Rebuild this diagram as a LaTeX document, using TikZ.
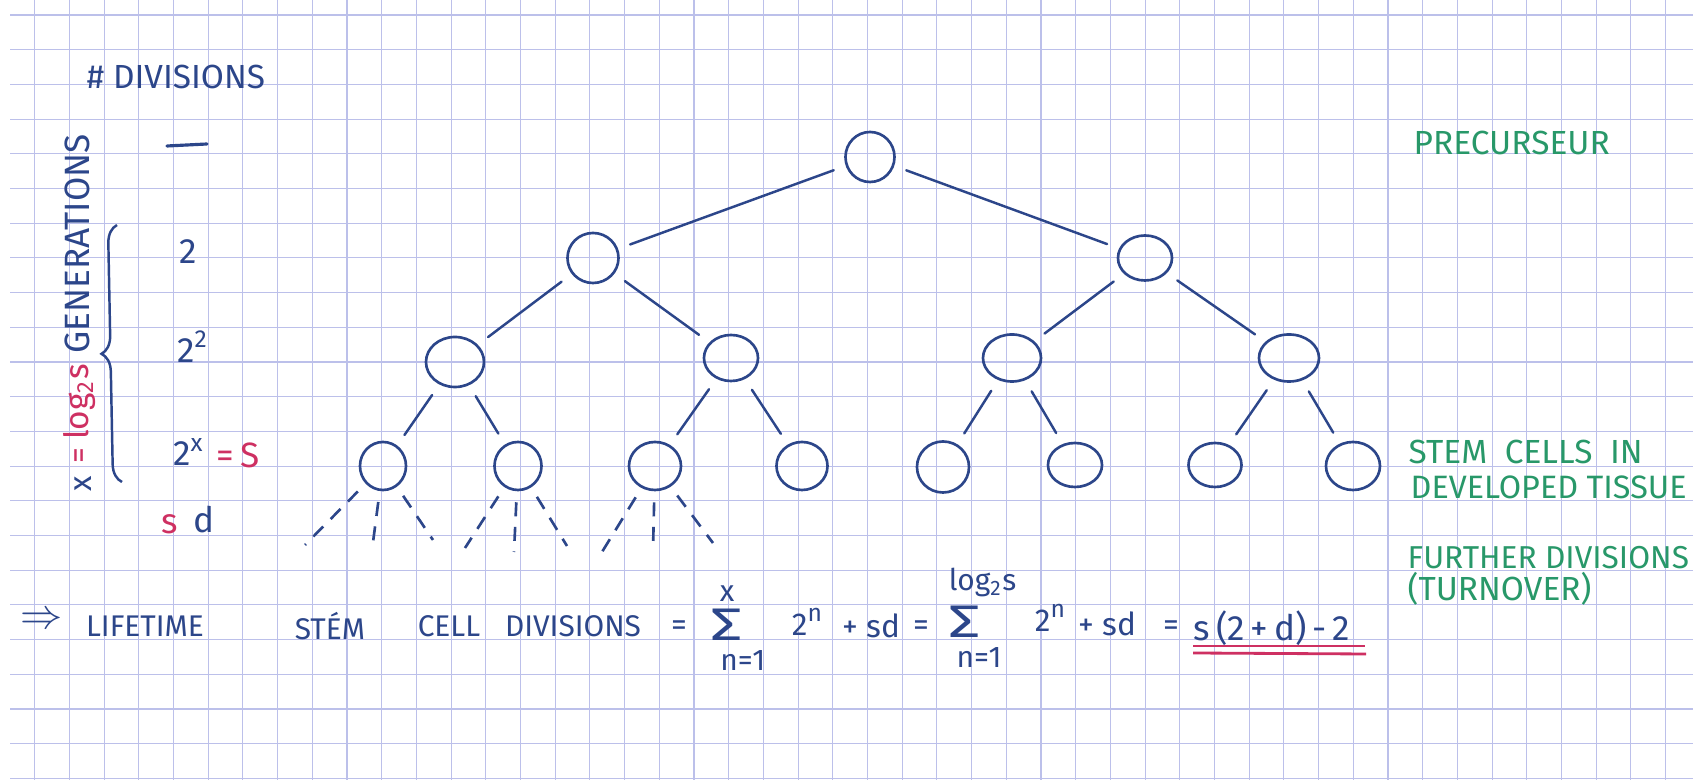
\documentclass[tikz,border=0pt]{standalone}
\usepackage{fontspec}
\setmainfont{Fira Sans}
\usetikzlibrary{shapes.geometric,decorations.pathreplacing}
\definecolor{ink}{RGB}{44,70,138}
\definecolor{gink}{RGB}{40,152,105}
\definecolor{rink}{RGB}{206,48,98}
\definecolor{gridc}{RGB}{188,192,234}
\newcommand{\fs}[1]{\fontsize{#1}{#1}\selectfont}
\newcommand{\hsup}[1]{\raisebox{0.8ex}{\fs{7}#1}}
\newcommand{\bigsig}{{\fs{13}\scalebox{1.4}[1]{Σ}}}
\newcommand{\cellnode}[5]{\node[cell,minimum width=#4cm,minimum height=#5cm] (#1) at (#2,#3) {};}
\begin{document}
\begin{tikzpicture}[x=0.01cm,y=-0.01cm,
  gridline/.style={draw=gridc,line width=0.3pt},
  cell/.style={draw=ink,ellipse,line width=0.75pt,inner sep=0pt,outer sep=0pt},
  link/.style={draw=ink,line width=0.7pt,shorten <=4pt,shorten >=4pt,line cap=round},
  turnover/.style={draw=ink,line width=0.75pt,dash pattern=on 4pt off 3pt,shorten <=3.5pt},
  bt/.style={text=ink,inner sep=0pt,font=\fs{9}},
  gt/.style={text=gink,inner sep=0pt,anchor=west,font=\fs{9.5}},
  rt/.style={text=rink,inner sep=0pt,font=\fs{9}},
  ft/.style={text=ink,inner sep=0pt,font=\fs{8.5}},
]
\useasboundingbox (0,0) rectangle (1693,780);
\fill[white] (0,0) rectangle (1693,780);
\foreach \k in {1,...,48} \draw[gridline] (\k*34.7,0) -- (\k*34.7,780);
\foreach \k in {0,...,22} \draw[gridline] (10,15+\k*34.7) -- (1693,15+\k*34.7);

% tree
\cellnode{r}{870}{157}{0.49}{0.50}
\cellnode{a}{593}{258}{0.51}{0.50}
\cellnode{b}{1145}{258}{0.54}{0.45}
\cellnode{aa}{455}{362}{0.58}{0.50}
\cellnode{ab}{731}{358}{0.54}{0.46}
\cellnode{ba}{1012}{358}{0.58}{0.47}
\cellnode{bb}{1289}{358}{0.60}{0.47}
\cellnode{aaa}{383}{466}{0.46}{0.48}
\cellnode{aab}{518}{466}{0.47}{0.48}
\cellnode{aba}{655}{466}{0.52}{0.48}
\cellnode{abb}{802}{466}{0.51}{0.48}
\cellnode{baa}{943}{467}{0.52}{0.51}
\cellnode{bab}{1075}{465}{0.54}{0.44}
\cellnode{bba}{1215}{465}{0.53}{0.44}
\cellnode{bbb}{1353}{466}{0.54}{0.48}

\draw[link] (r) -- (a);
\draw[link] (r) -- (b);
\draw[link] (a) -- (aa);
\draw[link] (a) -- (ab);
\draw[link] (b) -- (ba);
\draw[link] (b) -- (bb);
\draw[link] (aa) -- (aaa);
\draw[link] (aa) -- (aab);
\draw[link] (ab) -- (aba);
\draw[link] (ab) -- (abb);
\draw[link] (ba) -- (baa);
\draw[link] (ba) -- (bab);
\draw[link] (bb) -- (bba);
\draw[link] (bb) -- (bbb);

% further divisions (dashed)
\coordinate (d1l) at (305,545);
\coordinate (d1m) at (372,550);
\coordinate (d1r) at (433,540);
\coordinate (d2l) at (465,548);
\coordinate (d2m) at (514,552);
\coordinate (d2r) at (567,546);
\coordinate (d3l) at (602,552);
\coordinate (d3m) at (653,550);
\coordinate (d3r) at (713,543);
\draw[turnover] (aaa) -- (d1l);
\draw[turnover] (aaa) -- (d1m);
\draw[turnover] (aaa) -- (d1r);
\draw[turnover] (aab) -- (d2l);
\draw[turnover] (aab) -- (d2m);
\draw[turnover] (aab) -- (d2r);
\draw[turnover] (aba) -- (d3l);
\draw[turnover] (aba) -- (d3m);
\draw[turnover] (aba) -- (d3r);

% left column
\node[bt,font=\fs{9.5}] (hdr) at (176,77) {\# DIVISIONS};
\draw[ink,line width=0.9pt,line cap=round] (167,146) -- (207,144);
\node[bt,font=\fs{10}] (g1) at (188,252) {2};
\node[bt,font=\fs{10}] (g2) at (192,347) {2\hsup{2}};
\node[bt,font=\fs{10}] (gx) at (188,452) {2\hsup{x}};
\node[rt,font=\fs{10}] (eqs) at (238,455) {=\,S};
\node[rt,font=\fs{10}] (sd1) at (170,524) {s};
\node[bt,font=\fs{10}] (sd2) at (204,520) {d};

\draw[ink,line width=0.7pt,decorate,decoration={brace,amplitude=0.18cm}] (122,482) -- (117,225);
\node[bt,rotate=90] (rx) at (83,484) {x};
\node[rt,rotate=90] (req) at (82,456) {=};
\node[rt,rotate=90,font=\fs{9.5}] (rlog) at (80,402) {log\textsubscript{2}s};
\node[bt,rotate=90,font=\fs{10}] (rgen) at (77,244) {GENERATIONS};

% right column
\node[gt] (pre) at (1413,143) {PRECURSEUR};
\node[gt] (stem1) at (1408,452) {STEM\hspace{5pt}CELLS\hspace{5pt}IN};
\node[gt,font=\fs{9.2}] (stem2) at (1410,487) {DEVELOPED TISSUE};
\node[gt,font=\fs{9}] (fur1) at (1407,558) {FURTHER DIVISIONS};
\node[gt] (fur2) at (1407,589) {(TURNOVER)};

% formula
\node[bt,font=\fs{12}] (arr) at (42,621) {$\Rightarrow$};
\node[ft] (w1) at (145,626) {LIFETIME};
\node[ft] (w2) at (330,626) {STÉM};
\node[ft] (w3) at (449,626) {CELL};
\node[ft] (w4) at (573,626) {DIVISIONS};
\node[ft,font=\fs{9}] (e1) at (679,628) {=};
\node[ft,align=center] (s1) at (727,628) {x\\[1.3pt]\bigsig\\\hspace*{9pt}n=1};
\node[ft,font=\fs{9}] (p1) at (807,622) {2\hsup{n}};
\node[ft,font=\fs{9}] (q1) at (871,626) {+ sd};
\node[ft,font=\fs{9}] (e2) at (921,628) {=};
\node[ft,align=center] (s2) at (965,618) {\hspace*{10pt}log\textsubscript{2}s\\[1.5pt]\bigsig\\\hspace*{8pt}n=1};
\node[ft,font=\fs{9}] (p2) at (1050,618) {2\hsup{n}};
\node[ft,font=\fs{9}] (q2) at (1107,624) {+ sd};
\node[ft,font=\fs{9}] (e3) at (1171,628) {=};
\node[ft,font=\fs{10}] (res) at (1272,628) {s\,(2\,+\,d)\,-\,2};
\draw[rink,line width=0.8pt] (1193,646) -- (1365,646);
\draw[rink,line width=0.8pt] (1193,653) -- (1366,654);
\end{tikzpicture}
\end{document}
